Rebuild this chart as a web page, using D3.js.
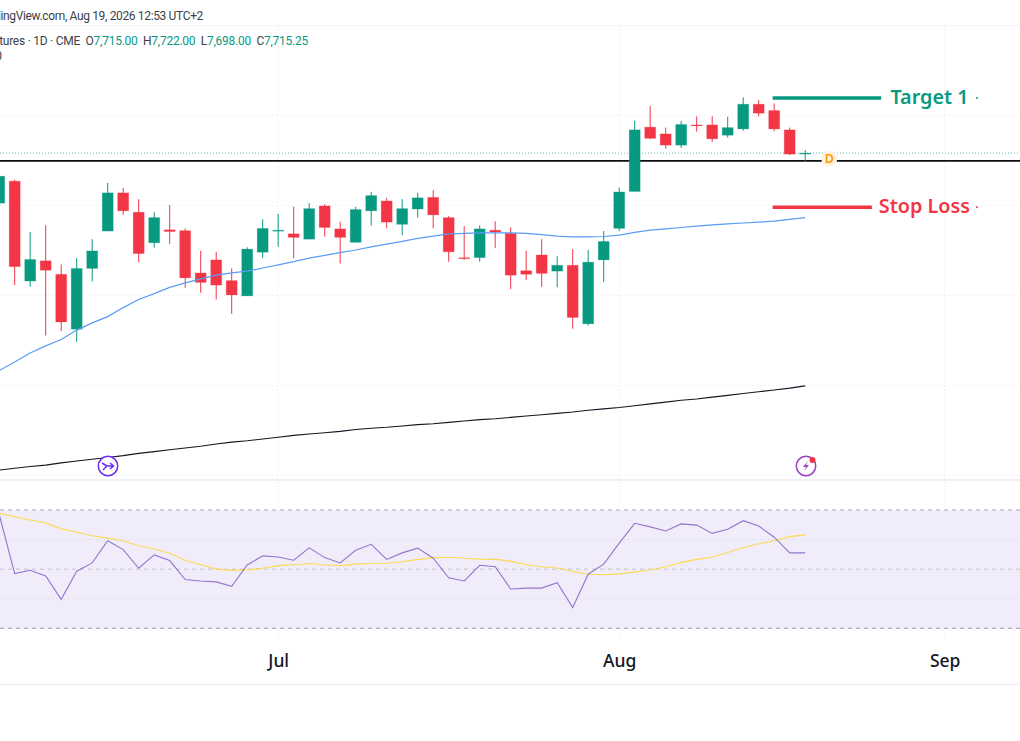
<!DOCTYPE html>
<html>
<head>
<meta charset="utf-8">
<script src="https://cdn.jsdelivr.net/npm/d3@7"></script>
<style>
  html, body { margin: 0; padding: 0; background: #fff; overflow: hidden; }
  svg { display: block; }
  text { font-family: "Noto Sans", sans-serif; }
  .small { font-family: Roboto, sans-serif; font-size: 12px; fill: #3b3f4a; }
</style>
</head>
<body>
<svg id="chart" width="1020" height="741"></svg>
<script>
// Daily bars
const opens = [7604,7653,7431,7476,7446,7324,7459,7542,7627,7584,7516,7545,7543,7449,7478,7432,7398,7495,7543,7536,7524,7598,7547,7517,7587,7609,7557,7591,7617,7572,7483,7483,7544,7537,7454,7489,7453,7466,7336,7478,7548,7630,7773,7758,7733,7778,7778,7755,7769,7824,7810,7767,7715];
const highs = [7669,7656,7540,7555,7468,7482,7524,7649,7638,7613,7584,7600,7548,7498,7496,7459,7506,7568,7580,7596,7604,7602,7563,7596,7629,7616,7613,7627,7633,7575,7553,7555,7564,7550,7498,7524,7486,7502,7500,7542,7639,7787,7820,7772,7787,7797,7797,7796,7839,7833,7826,7772,7722];
const lows = [7600,7422,7418,7310,7320,7296,7430,7542,7578,7473,7505,7513,7416,7405,7390,7358,7398,7482,7507,7482,7524,7530,7470,7517,7554,7548,7533,7572,7548,7474,7478,7474,7504,7413,7433,7418,7417,7325,7332,7429,7542,7630,7747,7725,7727,7763,7740,7750,7765,7797,7764,7711,7698];
const closes = [7664,7463,7479,7455,7340,7459,7498,7627,7587,7492,7572,7541,7438,7428,7422,7400,7502,7548,7544,7528,7592,7550,7528,7590,7621,7562,7592,7616,7578,7496,7481,7547,7540,7444,7446,7448,7466,7350,7473,7519,7629,7767,7748,7733,7779,7777,7747,7772,7824,7804,7769,7713,7715.25];

const ma50 = [7232,7251,7271,7287,7301,7322,7338,7352,7372,7390,7403,7417,7427,7436,7444,7449,7453,7460,7467,7474,7482,7488,7494,7500,7507,7513,7519,7526,7531,7536,7537,7538,7538,7538,7537,7534,7531,7529,7529,7530,7533,7539,7544,7547,7550,7553,7556,7558,7560,7562,7564,7568,7572];
const ma200 = [7011,7015,7019,7022,7027,7031,7035,7039,7043,7048,7052,7056,7060,7064,7069,7073,7076,7080,7084,7088,7091,7094,7097,7101,7104,7106,7109,7112,7114,7117,7120,7123,7125,7128,7131,7134,7137,7140,7144,7147,7150,7154,7158,7162,7166,7169,7173,7177,7181,7185,7189,7193,7198];

const rsi = [68.5,48.5,49.6,47.7,39.8,49.3,52.1,59.6,56.6,50.3,54.8,52.9,46.5,46,45.7,44.2,51.4,54.5,54.1,53,57.2,53.9,52.1,56.4,58.4,53.3,55.5,57.1,53.7,47.1,46,51.3,50.8,43.3,43.6,43.6,45.4,37,48.3,51.7,58.8,65.5,64.3,62.9,65.3,64.9,62.1,63.5,66.4,64.6,60.8,55.5,55.5];
const rsiMa = [68.9,67.7,66.6,65.6,63.7,62.5,61.3,60.5,59.6,57.9,56.8,55.4,53,51.5,50,49.6,49.8,50.3,51.2,51.5,51.9,51.4,51.2,51.7,51.9,52,52.5,53.3,53.8,54,53.7,53.4,53.3,52.7,51.5,50.8,50.4,49.2,48.3,48.1,48.4,49,49.8,50.7,52.3,53.3,54,55.6,57.3,58.6,59.6,61,61.6];

const priceGrid = [7800,7600,7400,7200,7000];
const monthLabels = ["Jul","Aug","Sep"];
const monthBars = [18,40,61];
const rsiBands = [70,50,30];
const rsiGrid = [60,40];

const lastClose = 7715.25;
const hline = 7698;
const annotations = [
  { label: "Target 1", price: 7838, from: 49.9, to: 56.9, labelBar: 57.5, color: "#089981" },
  { label: "Stop Loss", price: 7595, from: 49.9, to: 56.3, labelBar: 56.75, color: "#f23645" }
];

const green = "#089981", red = "#f23645";

const x = d3.scaleLinear().domain([0, 61]).range([-0.8, 944.7]);
const y = d3.scaleLinear().domain([7800, 7000]).range([115, 475]);
const yRsi = d3.scaleLinear().domain([70, 30]).range([510, 628.3]);

const svg = d3.select("#chart");

// header
svg.append("rect").attr("x", 0).attr("y", 25).attr("width", 1020).attr("height", 1).attr("fill", "#f0f3fa");
svg.append("text").attr("class", "small").attr("x", 203).attr("y", 19.5).attr("text-anchor", "end")
  .attr("letter-spacing", -0.35)
  .text("Published on TradingView.com, Aug 19, 2026 12:53 UTC+2");

// grid
const grid = svg.append("g").attr("stroke", "#e6e8ee").attr("stroke-width", 1).attr("stroke-dasharray", "1 3");
grid.selectAll("line.h").data(priceGrid).enter().append("line")
  .attr("x1", 0).attr("x2", 1020).attr("y1", d => y(d) + 0.5).attr("y2", d => y(d) + 0.5);
grid.selectAll("line.v").data(monthBars).enter().append("line")
  .attr("x1", d => x(d)).attr("x2", d => x(d)).attr("y1", 26).attr("y2", 640);

// pane separator and bottom rule
svg.append("rect").attr("x", 0).attr("y", 479).attr("width", 1020).attr("height", 2).attr("fill", "#f0f1f5");
svg.append("rect").attr("x", 0).attr("y", 684).attr("width", 1020).attr("height", 1).attr("fill", "#eceef3");

// RSI pane
svg.append("rect").attr("x", 0).attr("y", yRsi(70)).attr("width", 1020).attr("height", yRsi(30) - yRsi(70)).attr("fill", "#f0ecf9");
svg.selectAll("line.rg").data(rsiGrid).enter().append("line")
  .attr("x1", 0).attr("x2", 1020).attr("y1", d => yRsi(d)).attr("y2", d => yRsi(d))
  .attr("stroke", "#d6d3df").attr("stroke-dasharray", "1 3");
svg.selectAll("line.rb").data(rsiBands).enter().append("line")
  .attr("x1", 0).attr("x2", 1020).attr("y1", d => yRsi(d)).attr("y2", d => yRsi(d))
  .attr("stroke", d => d === 30 ? "#9d99a8" : "#c4c2cc").attr("stroke-width", d => d === 70 ? 1.4 : 1)
  .attr("stroke-dasharray", "4 4");

const rsiLine = d3.line().x((d, i) => x(i)).y(d => yRsi(d));
svg.append("path").datum(rsiMa).attr("d", rsiLine).attr("fill", "none").attr("stroke", "#fdd835").attr("stroke-opacity", 0.85).attr("stroke-width", 1.1);
svg.append("path").datum(rsi).attr("d", rsiLine).attr("fill", "none").attr("stroke", "#7e57c2").attr("stroke-opacity", 0.8).attr("stroke-width", 1.1);

// price lines
svg.append("line").attr("x1", 0).attr("x2", 1020).attr("y1", y(lastClose)).attr("y2", y(lastClose))
  .attr("stroke", green).attr("stroke-opacity", 0.6).attr("stroke-dasharray", "1 2");
svg.append("line").attr("x1", 0).attr("x2", 1020).attr("y1", y(hline)).attr("y2", y(hline))
  .attr("stroke", "#0c0e13").attr("stroke-width", 1.6);

// moving averages
const priceLine = d3.line().x((d, i) => x(i)).y(d => y(d));
svg.append("path").datum(ma200).attr("d", priceLine).attr("fill", "none").attr("stroke", "#131722").attr("stroke-width", 1.1);

// candles
const bars = d3.range(closes.length);
const isUp = i => closes[i] >= opens[i];
svg.append("g").selectAll("line").data(bars).enter().append("line")
  .attr("x1", i => x(i)).attr("x2", i => x(i))
  .attr("y1", i => y(highs[i])).attr("y2", i => y(lows[i]))
  .attr("stroke", i => isUp(i) ? green : red).attr("stroke-width", 1);
svg.append("g").selectAll("rect").data(bars).enter().append("rect")
  .attr("x", i => x(i) - 5.5).attr("width", 11)
  .attr("y", i => y(Math.max(opens[i], closes[i])))
  .attr("height", i => Math.max(1, Math.abs(y(opens[i]) - y(closes[i]))))
  .attr("fill", i => isUp(i) ? green : red)
  .attr("stroke", i => isUp(i) ? green : red).attr("stroke-opacity", 0.2).attr("stroke-width", 1);

svg.append("path").datum(ma50).attr("d", priceLine).attr("fill", "none").attr("stroke", "#5b9cf6").attr("stroke-width", 1.2);

// target / stop drawings
annotations.forEach(a => {
  svg.append("line").attr("x1", x(a.from)).attr("x2", x(a.to)).attr("y1", y(a.price)).attr("y2", y(a.price))
    .attr("stroke", a.color).attr("stroke-width", 3.5);
  svg.append("text").attr("x", x(a.labelBar)).attr("y", y(a.price)).attr("dy", "0.3em")
    .attr("font-size", 19.8).attr("font-weight", 600).attr("fill", a.color).text(a.label);
  svg.append("circle").attr("cx", 977).attr("cy", y(a.price)).attr("r", 1).attr("fill", a.color);
});

// dividend marker
svg.append("circle").attr("cx", 829.3).attr("cy", 158.7).attr("r", 8).attr("fill", "#fff3e0");
svg.append("text").attr("x", 829.3).attr("y", 158.7).attr("dy", "0.36em").attr("text-anchor", "middle")
  .attr("font-size", 12.5).attr("font-weight", 600).attr("fill", "#ff9800").text("D");

// event icons
const ic1 = svg.append("g").attr("transform", "translate(108,466)").attr("fill", "none").attr("stroke", "#6a2cf5").attr("stroke-width", 1.5);
ic1.append("circle").attr("r", 9.7).attr("fill", "#fff");
ic1.append("path").attr("d", "M-6,-3 L-1,0 L-5,4 M-1,0 L5,0 M2,-3 L5.5,0 L2,3");
const ic2 = svg.append("g").attr("transform", "translate(806,466)");
ic2.append("circle").attr("r", 9.7).attr("fill", "#fff").attr("stroke", "#9c3fc7").attr("stroke-width", 1.5);
ic2.append("path").attr("d", "M2,-5 L-3,1 L0,1 L-2,5 L3,-1 L0,-1 Z").attr("fill", "#9c3fc7");
svg.append("circle").attr("cx", 812.5).attr("cy", 460).attr("r", 3).attr("fill", "#f23645");

// legend
const legend = svg.append("text").attr("class", "small").attr("x", 308).attr("y", 45).attr("text-anchor", "end").attr("letter-spacing", -0.25);
legend.append("tspan").text("E-mini S&P 500 Futures · 1D · CME\u00a0\u00a0O");
legend.append("tspan").attr("fill", green).text("7,715.00");
legend.append("tspan").text("\u00a0\u00a0H");
legend.append("tspan").attr("fill", green).text("7,722.00");
legend.append("tspan").text("\u00a0\u00a0L");
legend.append("tspan").attr("fill", green).text("7,698.00");
legend.append("tspan").text("\u00a0\u00a0C");
legend.append("tspan").attr("fill", green).text("7,715.25");
svg.append("text").attr("class", "small").attr("x", 2).attr("y", 60).attr("text-anchor", "end").text("Vol 0");

// time axis
const axis = d3.axisBottom(x).tickValues(monthBars).tickSize(0).tickFormat((d, i) => monthLabels[i]);
const axisG = svg.append("g").attr("transform", "translate(0,645)").call(axis);
axisG.select(".domain").remove();
axisG.selectAll("text").attr("font-size", 17.5).attr("font-family", "Noto Sans, sans-serif").attr("font-weight", 500).attr("fill", "#131722").attr("y", 10).attr("dy", "0.71em");
</script>
</body>
</html>
